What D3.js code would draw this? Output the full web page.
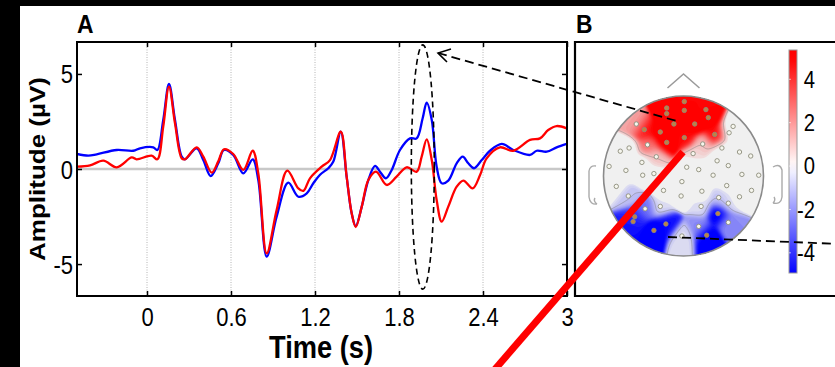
<!DOCTYPE html>
<html>
<head>
<meta charset="utf-8">
<script src="https://cdn.jsdelivr.net/npm/d3@7"></script>
<style>
  body { margin: 0; background: #000; }
  svg { display: block; font-family: "Liberation Sans", Arial, sans-serif; }
</style>
</head>
<body>
<svg id="fig" width="835" height="367"></svg>
<script>
// ---- data ----
// panel A: ERP traces [time (s), amplitude (µV)]
const blueSeries = [
  [-0.5, 0.79], [-0.419, 0.70], [-0.359, 0.77], [-0.216, 1.0], [-0.098, 0.96], [-0.05, 1.09],
  [0.045, 1.14], [0.074, 1.0], [0.116, 2.58], [0.157, 4.47], [0.2, 2.58], [0.248, 0.65],
  [0.271, 0.51], [0.355, 1.09], [0.402, 0.47], [0.455, -0.37], [0.509, 0.30], [0.55, 1.0],
  [0.616, 0.74], [0.688, -0.23], [0.755, 0.51], [0.795, -0.58], [0.855, -4.61], [0.926, -2.51],
  [1.009, -0.72], [1.081, -1.46], [1.141, -1.28], [1.188, -0.75], [1.236, -0.3], [1.295, 0.04],
  [1.331, 0.39], [1.384, 1.96], [1.426, -0.4], [1.462, -2.33], [1.491, -3.0], [1.534, -1.98],
  [1.581, -0.58], [1.629, 0.16], [1.664, -0.14], [1.707, -0.49], [1.748, -0.05], [1.807, 1.0],
  [1.879, 1.61], [1.926, 1.61], [1.969, 2.67], [1.998, 3.49], [2.034, 2.58], [2.069, 0.12],
  [2.105, -0.75], [2.152, -0.61], [2.212, 0.30], [2.255, 0.65], [2.295, 0.30], [2.336, 0.04],
  [2.391, 0.47], [2.45, 0.96], [2.534, 1.32], [2.616, 1.0], [2.736, 0.74], [2.784, 0.96],
  [2.855, 0.91], [2.926, 1.14], [2.998, 1.32]
];
const redSeries = [
  [-0.5, 0.12], [-0.407, 0.19], [-0.312, 0.44], [-0.216, 0.09], [-0.109, 0.61], [-0.074, 0.51],
  [0.033, 0.70], [0.074, 0.51], [0.116, 2.23], [0.157, 4.33], [0.2, 2.4], [0.248, 0.56],
  [0.271, 0.51], [0.355, 1.14], [0.402, 0.65], [0.462, -0.19], [0.509, 0.4], [0.55, 1.04],
  [0.616, 0.79], [0.688, -0.05], [0.755, 0.96], [0.795, -0.23], [0.855, -4.44], [0.926, -2.16],
  [1.002, -0.09], [1.081, -1.02], [1.117, -1.15], [1.164, -0.49], [1.248, 0.12], [1.307, 0.47],
  [1.384, 1.96], [1.426, -0.4], [1.462, -2.33], [1.491, -3.05], [1.534, -1.98], [1.581, -0.58],
  [1.636, -0.14], [1.712, -0.84], [1.783, -0.40], [1.855, 0.09], [1.926, -0.14], [1.962, 0.65],
  [1.998, 1.56], [2.034, 0.47], [2.069, -1.63], [2.105, -2.77], [2.152, -1.98], [2.212, -0.93],
  [2.26, -0.61], [2.326, -1.02], [2.379, -0.32], [2.426, 0.56], [2.521, 1.14], [2.616, 0.96],
  [2.736, 1.53], [2.807, 1.61], [2.866, 2.05], [2.926, 2.26], [2.998, 2.14]
];
const xTicks = [0, 0.6, 1.2, 1.8, 2.4, 3];
const yTicks = [-5, 0, 5];
const xDomain = [-0.5, 3];
const yDomain = [-6.68, 6.68];
// highlighted window (dashed ellipse): centre time, half width, amplitude span
const windowT = 1.97, windowHalf = 0.082, windowV = [-6.32, 6.53];

// panel B: electrodes [x, y (nose = +1), value µV] in head units
const electrodes = [
  [0.01, 0.93, 4.5], [-0.21, 0.85, 5], [0.01, 0.82, 5], [0.28, 0.83, 4.5], [-0.21, 0.78, 5],
  [-0.59, 0.65, 1.5], [-0.49, 0.58, 4.5], [-0.29, 0.55, 5], [-0.12, 0.65, 5], [0.14, 0.65, 5],
  [0.31, 0.73, 5], [0.62, 0.62, 0], [0.57, 0.54, 0], [0.39, 0.52, 4.5], [0.01, 0.48, 4.5],
  [-0.21, 0.42, 5], [-0.45, 0.39, 2.5], [-0.68, 0.35, 0], [-0.79, 0.31, 0], [0.24, 0.40, 1],
  [0.48, 0.35, 0], [0.70, 0.30, 0], [0.84, 0.25, 0], [0.12, 0.28, 0.5], [-0.34, 0.24, 1],
  [-0.52, 0.17, 0], [-0.93, 0.12, 0], [-0.72, 0.07, 0], [-0.51, 0.01, 0], [-0.37, 0.03, 0],
  [0.04, 0.11, 0], [0.19, 0.08, 0], [0.42, 0.19, 0], [0.56, 0.13, 0], [0.37, 0.01, 0],
  [0.73, 0.02, 0], [0.94, 0.01, 0], [-0.02, -0.07, 0], [-0.84, -0.13, 0], [-0.25, -0.18, 0],
  [0.23, -0.19, 0], [0.54, -0.12, 0], [0.85, -0.18, 0], [-0.69, -0.25, -1], [-0.03, -0.25, 0],
  [0.44, -0.27, -1], [0.70, -0.26, 0], [-0.48, -0.41, -2.5], [-0.29, -0.38, -0.5], [0.22, -0.38, -0.5],
  [0.56, -0.34, -0.5], [-0.61, -0.51, -3.5], [-0.63, -0.57, -4.5], [-0.22, -0.60, -4.5], [-0.37, -0.68, -5],
  [0.43, -0.47, -5], [0.56, -0.58, -2], [0.19, -0.63, -2], [0.29, -0.74, -5], [-0.02, -0.75, -0.5]
];
const cbDomain = [-4.93, 5.35];
const cbTicks = [4, 2, 0, -2, -4];

// ---- layout ----
const svg = d3.select("#fig");
const SX = 0.88; // figure text is slightly condensed horizontally
const plain = d => String(d);

svg.append("rect").attr("x", 20).attr("y", 6).attr("width", 815).attr("height", 361).attr("fill", "#fff");

const A = { left: 77, right: 567, top: 42, bottom: 296 };
const x = d3.scaleLinear().domain(xDomain).range([A.left, A.right]);
const y = d3.scaleLinear().domain(yDomain).range([A.bottom, A.top]);

svg.append("defs").append("clipPath").attr("id", "plotClip")
  .append("rect").attr("x", A.left).attr("y", A.top)
  .attr("width", A.right - A.left).attr("height", A.bottom - A.top);

const gA = svg.append("g");

// grid
gA.append("g").selectAll("line")
  .data(xTicks.filter(t => t > xDomain[0] && t < xDomain[1]))
  .join("line")
  .attr("x1", d => x(d)).attr("x2", d => x(d))
  .attr("y1", A.top).attr("y2", A.bottom)
  .attr("stroke", "#b4b4b4").attr("stroke-width", 1).attr("stroke-dasharray", "1,1.5");

gA.append("line")
  .attr("x1", A.left).attr("x2", A.right).attr("y1", y(0)).attr("y2", y(0))
  .attr("stroke", "#c8c8c8").attr("stroke-width", 2.5);

// traces
const line = d3.line().x(d => x(d[0])).y(d => y(d[1])).curve(d3.curveCatmullRom.alpha(0.5));
const traces = gA.append("g").attr("clip-path", "url(#plotClip)");
traces.append("path").datum(blueSeries).attr("d", line)
  .attr("fill", "none").attr("stroke", "#0000ff").attr("stroke-width", 2.3).attr("stroke-linejoin", "round");
traces.append("path").datum(redSeries).attr("d", line)
  .attr("fill", "none").attr("stroke", "#ff0000").attr("stroke-width", 2.3).attr("stroke-linejoin", "round");

// axes (ticks inward, all four sides)
function styleAxis(g) {
  g.select(".domain").remove();
  g.selectAll(".tick line").attr("stroke", "#000").attr("stroke-width", 1.5);
}
gA.append("g").attr("transform", `translate(0,${A.bottom})`)
  .call(d3.axisBottom(x).tickValues(xTicks).tickSize(-5).tickFormat(plain))
  .call(styleAxis)
  .call(g => g.selectAll("text").attr("font-size", 25).attr("fill", "#000")
    .attr("y", 30).attr("dy", null).attr("transform", `scale(${SX},1)`));
gA.append("g").attr("transform", `translate(0,${A.top})`)
  .call(d3.axisTop(x).tickValues(xTicks).tickSize(-5).tickFormat(""))
  .call(styleAxis);
gA.append("g").attr("transform", `translate(${A.left},0)`)
  .call(d3.axisLeft(y).tickValues(yTicks).tickSize(-5).tickFormat(plain))
  .call(styleAxis)
  .call(g => g.selectAll("text").attr("font-size", 25).attr("fill", "#000")
    .attr("x", -4.5).attr("dy", "0.36em").attr("transform", `scale(${SX},1)`));
gA.append("g").attr("transform", `translate(${A.right},0)`)
  .call(d3.axisRight(y).tickValues(yTicks).tickSize(-5).tickFormat(""))
  .call(styleAxis);

gA.append("rect").attr("x", A.left).attr("y", A.top)
  .attr("width", A.right - A.left).attr("height", A.bottom - A.top)
  .attr("fill", "none").attr("stroke", "#000").attr("stroke-width", 2);

// axis titles
gA.append("text").attr("transform", `translate(${(A.left + A.right) / 2 - 1},358) scale(${SX},1)`)
  .attr("text-anchor", "middle").attr("font-size", 31).attr("font-weight", "bold").text("Time (s)");
gA.append("text").attr("transform", `translate(45,${(A.top + A.bottom) / 2}) rotate(-90) scale(1,0.82)`)
  .attr("text-anchor", "middle").attr("font-size", 26).attr("font-weight", "bold").text("Amplitude (µV)");

// panel letters
svg.append("text").attr("transform", `translate(77,33) scale(${SX},1)`)
  .attr("font-size", 26).attr("font-weight", "bold").text("A");
svg.append("text").attr("transform", `translate(576,33) scale(${SX},1)`)
  .attr("font-size", 26).attr("font-weight", "bold").text("B");

// ---- panel B ----
const gB = svg.append("g");
gB.append("path").attr("d", `M840,${A.top}H575V${A.bottom}H840`)
  .attr("fill", "none").attr("stroke", "#000").attr("stroke-width", 2.2);

const head = { cx: 683.5, cy: 176, r: 80 };
const hx = d3.scaleLinear().domain([-1, 1]).range([head.cx - head.r, head.cx + head.r]);
const hy = d3.scaleLinear().domain([-1, 1]).range([head.cy + head.r, head.cy - head.r]);

const topoColor = d3.scaleLinear().domain([-4.5, 0, 4.5]).range(["#0000ff", "#f0f0f0", "#ff0000"]).clamp(true);
const cbColor = d3.scaleLinear().domain([-5, 0, 5]).range(["#0000ff", "#ffffff", "#ff0000"]).clamp(true);

svg.select("defs").append("clipPath").attr("id", "headClip")
  .append("circle").attr("cx", head.cx).attr("cy", head.cy).attr("r", head.r);

gB.append("circle").attr("cx", head.cx).attr("cy", head.cy).attr("r", head.r).attr("fill", "#f0f0f0");

// smooth scalp map from electrode values (gaussian-weighted)
const step = 1;
const n = Math.ceil(2 * head.r / step) + 1;
const x0 = head.cx - head.r, y0 = head.cy - head.r;
const sig = 0.075;
const field = new Float64Array(n * n);
for (let j = 0; j < n; j++) {
  for (let i = 0; i < n; i++) {
    const ux = hx.invert(x0 + i * step), uy = hy.invert(y0 + j * step);
    let sw = 0, sv = 0;
    for (const e of electrodes) {
      const d2 = (ux - e[0]) ** 2 + (uy - e[1]) ** 2;
      const w = Math.exp(-d2 / (2 * sig * sig));
      sw += w; sv += w * e[2];
    }
    field[j * n + i] = sw > 1e-300 ? sv / sw : 0;
  }
}
const levels = d3.range(0.4, 5.5, 0.2);
const contours = d3.contours().size([n, n]).thresholds(levels);
const proj = d3.geoPath(d3.geoIdentity().scale(step).translate([x0, y0]));
const gMap = gB.append("g").attr("clip-path", "url(#headClip)");
gMap.selectAll("path.pos").data(contours(field)).join("path")
  .attr("class", "pos").attr("d", proj).attr("fill", d => topoColor(d.value));
gMap.selectAll("path.neg").data(contours(field.map(v => -v))).join("path")
  .attr("class", "neg").attr("d", proj).attr("fill", d => topoColor(-d.value));
// outline contour
const edge = d3.contours().size([n, n]).thresholds([1]);
gMap.append("path").datum(edge(field)[0]).attr("d", proj)
  .attr("fill", "none").attr("stroke", "#777").attr("stroke-width", 0.6).attr("stroke-opacity", 0.7);
gMap.append("path").datum(edge(field.map(v => -v))[0]).attr("d", proj)
  .attr("fill", "none").attr("stroke", "#777").attr("stroke-width", 0.6).attr("stroke-opacity", 0.7);

// head outline, nose, ears
gB.append("circle").attr("cx", head.cx).attr("cy", head.cy).attr("r", head.r)
  .attr("fill", "none").attr("stroke", "#8a8a8a").attr("stroke-width", 1.6);
gB.append("path").attr("d", `M${hx(-0.2)},${hy(1.1)}L${hx(0)},${hy(1.275)}L${hx(0.2)},${hy(1.1)}`)
  .attr("fill", "none").attr("stroke", "#9a9a9a").attr("stroke-width", 1.5);
gB.append("path")
  .attr("d", "M596,166 Q590,165 589,171 L589,197 Q590,205 597,204 M597,204 Q593,201 595,198")
  .attr("fill", "none").attr("stroke", "#aaa").attr("stroke-width", 1.4);
gB.append("path")
  .attr("d", "M773,167 Q780,163 782,170 L782,197 Q781,205 773,203 M773,203 Q776,200 774,197")
  .attr("fill", "none").attr("stroke", "#aaa").attr("stroke-width", 1.4);

// electrodes
gB.append("g").selectAll("circle").data(electrodes).join("circle")
  .attr("cx", d => hx(d[0])).attr("cy", d => hy(d[1])).attr("r", 2.2)
  .attr("fill", d => Math.abs(d[2]) >= 3 ? "#c48040" : "#f6f6ee")
  .attr("stroke", "#8c8c7c").attr("stroke-width", 0.9);

// colorbar
const cb = { x: 789, w: 8 };
const cy = d3.scaleLinear().domain(cbDomain).range([273, 50]);
const grad = svg.select("defs").append("linearGradient").attr("id", "cbGrad")
  .attr("x1", 0).attr("x2", 0).attr("y1", 1).attr("y2", 0);
d3.range(0, 1.0001, 0.05).forEach(f => {
  const v = cbDomain[0] + f * (cbDomain[1] - cbDomain[0]);
  grad.append("stop").attr("offset", f).attr("stop-color", cbColor(v));
});
gB.append("rect").attr("x", cb.x).attr("y", cy(cbDomain[1])).attr("width", cb.w)
  .attr("height", cy(cbDomain[0]) - cy(cbDomain[1]))
  .attr("fill", "url(#cbGrad)").attr("stroke", "#999").attr("stroke-width", 1);
gB.append("g").selectAll("line").data(cbTicks).join("line")
  .attr("x1", cb.x).attr("x2", cb.x + 2).attr("y1", d => cy(d)).attr("y2", d => cy(d))
  .attr("stroke", "#fff").attr("stroke-opacity", 0.6);
gB.append("g").selectAll("text").data(cbTicks).join("text")
  .attr("transform", d => `translate(815,${cy(d)}) scale(${SX},1)`)
  .attr("dy", "0.36em").attr("text-anchor", "end").attr("font-size", 23).text(plain);

// ---- annotations ----
const ann = svg.append("g").attr("fill", "none").attr("stroke", "#000");
const ex = x(windowT), ey = (y(windowV[0]) + y(windowV[1])) / 2;
ann.append("ellipse").attr("cx", ex).attr("cy", ey)
  .attr("rx", x(windowT + windowHalf) - ex).attr("ry", (y(windowV[0]) - y(windowV[1])) / 2)
  .attr("stroke-width", 1.6).attr("stroke-dasharray", "6,4");
ann.append("line").attr("x1", 438).attr("y1", 53).attr("x2", 680).attr("y2", 122)
  .attr("stroke-width", 1.8).attr("stroke-dasharray", "9,5");
ann.append("path").attr("d", "M451,49 L438,53 L447,62").attr("stroke-width", 1.6);
ann.append("line").attr("x1", 668).attr("y1", 237).attr("x2", 840).attr("y2", 244)
  .attr("stroke-width", 1.8).attr("stroke-dasharray", "9,5");

svg.append("line").attr("x1", 683).attr("y1", 152).attr("x2", 490).attr("y2", 375)
  .attr("stroke", "#ff0000").attr("stroke-width", 7);
</script>
</body>
</html>
